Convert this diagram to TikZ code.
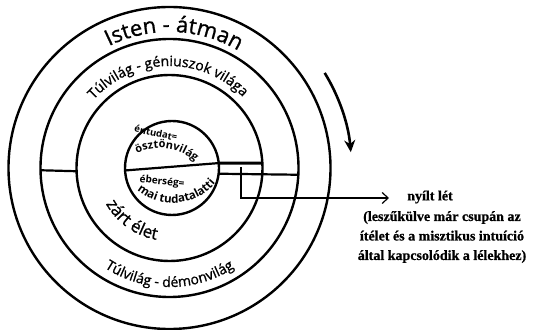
\documentclass[tikz,border=0pt]{standalone}
\usepackage{fontspec}
\setmainfont{Open Sans}
\newfontfamily\ringfont[FakeBold=1]{Open Sans}
\newfontfamily\serifb[FakeBold=0.8]{Liberation Serif Bold}
\usetikzlibrary{decorations.text,arrows.meta}
\begin{document}
\begin{tikzpicture}[x=1pt,y=1pt,
  ring/.style={circle,draw,line width=2.4pt,inner sep=0pt,outer sep=0pt,minimum size=#1},
  divline/.style={line width=2.2pt},
  thickline/.style={line width=3pt},
  pointer/.style={line width=1.2pt,-{Straight Barb[length=6pt,width=11pt,line width=1.2pt]}},
  turn/.style={line width=2.6pt,-{Stealth[length=12pt,width=11pt]}},
  arctext/.style={decorate,decoration={text along path,text align=center,text={#1}}},
  note/.style={font=\serifb\fontsize{14}{19.5}\selectfont,align=center,inner sep=0pt}
]
\useasboundingbox (0,0) rectangle (534,329);
\coordinate (O) at (169.5,161);
\coordinate (Oc) at (172,161);
\node[ring=322pt] (ringA) at (O) {};
\node[ring=258pt] (ringB) at (O) {};
\node[ring=186pt] (ringC) at (O) {};
\node[ring=94pt] (core) at (Oc) {};
% dividing lines
\draw[divline] (ringB.181.8) -- (ringC.182.5);
\draw[divline] (core.183.7) -- (core.6.1);
\draw[thickline] (core.6.1) -- (ringC.3);
\draw[divline] (core.353.9) -- (ringB.357.8);
% pointer
\coordinate (vtop) at (241,162);
\coordinate (tip) at (389,131);
\draw[pointer] (vtop) |- (tip);
% rotation arrow
\draw[turn] (O) ++(31.5:182) arc[start angle=31.5,end angle=5,radius=182];
% ring texts
\path[arctext={|\ringfont\fontsize{22}{22}\selectfont|Isten - átman}] (O) ++(150:136) arc[start angle=150,end angle=26,radius=136];
\path[arctext={|\ringfont\fontsize{14}{14}\selectfont|Túlvilág - géniuszok világa}] (O) ++(170:102) arc[start angle=170,end angle=12,radius=102];
\path[arctext={|\ringfont\fontsize{14}{14}\selectfont|Túlvilág - démonvilág}] (O) ++(200:119) arc[start angle=200,end angle=340,radius=119];
\path[arctext={|\ringfont\fontsize{17}{17}\selectfont|zárt élet}] (O) ++(194.5:73) arc[start angle=194.5,end angle=274.5,radius=73];
% core texts
\node[font=\bfseries\fontsize{9.5}{9.5}\selectfont,rotate=-12,inner sep=0pt] (entudat) at (156,196) {éntudat=};
\path[arctext={|\bfseries\fontsize{11}{11}\selectfont|ösztönvilág}] (160,129) ++(150:52) arc[start angle=150,end angle=14,radius=52];
\node[font=\bfseries\fontsize{10}{10}\selectfont,rotate=-6,inner sep=0pt] (eberseg) at (162,147) {éberség=};
\path[arctext={|\bfseries\fontsize{11.5}{11.5}\selectfont|mai tudatalatti}] (173,181) ++(200:55) arc[start angle=200,end angle=350,radius=55];
% right texts
\node[note] (nyilt) at (430,132) {nyílt lét};
\node[note] (desc) at (442,92) {(leszűkülve már csupán az\\ítélet és a misztikus intuíció\\által kapcsolódik a lélekhez)};
\end{tikzpicture}
\end{document}
